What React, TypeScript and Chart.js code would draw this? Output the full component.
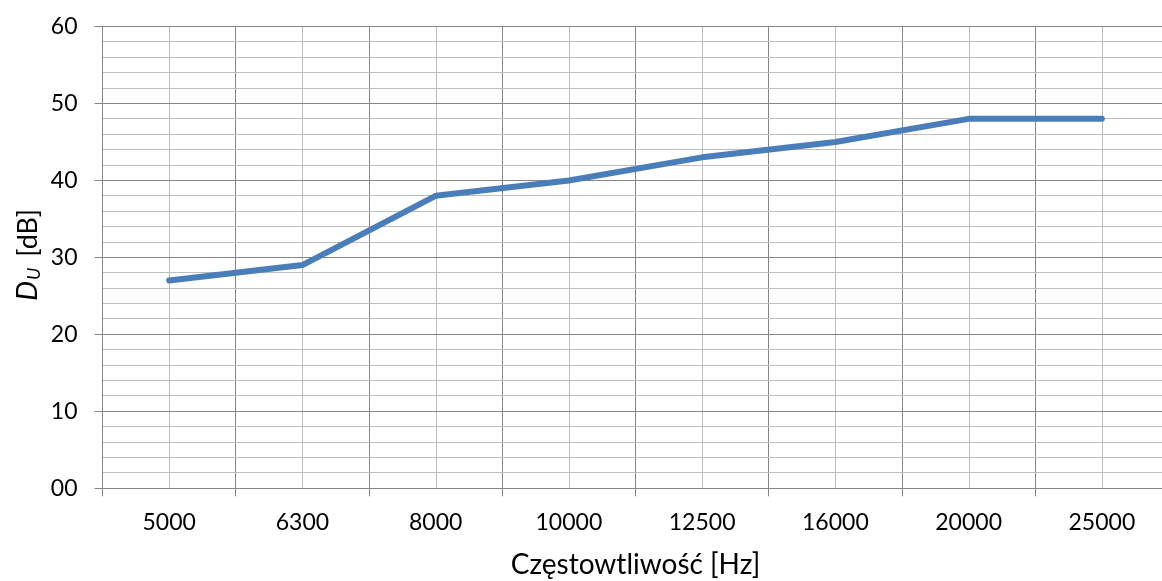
import React, { useEffect, useRef } from "react";
import { Chart, registerables } from "chart.js";

Chart.register(...registerables);

const categories = ["5000", "6300", "8000", "10000", "12500", "16000", "20000", "25000"];
const duValues = [27, 29, 38, 40, 43, 45, 48, 48];
const yTickLabels = ["00", "10", "20", "30", "40", "50", "60"];

const FONT = "Lato, 'Open Sans', sans-serif";
const DARK = "#868686";
const LIGHT = "#BEBEBE";

const centerLines = {
  id: "centerLines",
  beforeDraw(chart: any) {
    const { ctx, chartArea, scales } = chart;
    const x = scales.x;
    ctx.save();
    ctx.strokeStyle = LIGHT;
    ctx.lineWidth = 1;
    for (let i = 0; i < categories.length; i++) {
      const px = Math.round(x.getPixelForTick(i)) + 0.5;
      ctx.beginPath();
      ctx.moveTo(px, chartArea.top);
      ctx.lineTo(px, chartArea.bottom);
      ctx.stroke();
    }
    ctx.restore();
  },
};

const yTitle = {
  id: "yTitle",
  afterDraw(chart: any) {
    const { ctx, chartArea } = chart;
    const big = `27px ${FONT}`;
    const bigIt = `italic 28px ${FONT}`;
    const small = `italic 18px ${FONT}`;
    ctx.save();
    ctx.fillStyle = "#000";
    ctx.textBaseline = "alphabetic";
    ctx.textAlign = "left";
    ctx.font = bigIt;
    const wD = ctx.measureText("D").width;
    ctx.font = small;
    const wU = ctx.measureText("U").width;
    ctx.font = big;
    const wRest = ctx.measureText("[dB]").width;
    const gap = 11;
    const total = wD + 1 + wU + gap + wRest;
    const cy = (chartArea.top + chartArea.bottom) / 2 - 2.5;
    ctx.translate(37, cy);
    ctx.rotate(-Math.PI / 2);
    let xPos = -total / 2;
    ctx.font = bigIt;
    ctx.fillText("D", xPos, 0);
    xPos += wD + 1;
    ctx.font = small;
    ctx.fillText("U", xPos, 3);
    xPos += wU + gap;
    ctx.font = big;
    ctx.fillText("[dB]", xPos, 0);
    ctx.restore();
  },
};

export default function App() {
  const ref = useRef<HTMLCanvasElement | null>(null);

  useEffect(() => {
    if (!ref.current) return;
    const chart = new Chart(ref.current, {
      type: "line",
      data: {
        labels: categories,
        datasets: [
          {
            label: "DU",
            data: duValues,
            borderColor: "#4A7EBB",
            backgroundColor: "#4A7EBB",
            borderWidth: 6,
            borderCapStyle: "round",
            borderJoinStyle: "round",
            pointRadius: 0,
            tension: 0,
            fill: false,
          },
        ],
      },
      options: {
        animation: false,
        responsive: false,
        maintainAspectRatio: false,
        devicePixelRatio: 1,
        layout: { autoPadding: false, padding: { top: 26.5, right: 31.5, left: 0, bottom: 0 } },
        plugins: {
          legend: { display: false },
          tooltip: { enabled: false },
        },
        scales: {
          x: {
            type: "category",
            offset: true,
            grid: {
              offset: true,
              color: DARK,
              lineWidth: 1,
              tickLength: 8,
              tickColor: DARK,
            },
            border: { color: DARK, width: 1 },
            ticks: {
              autoSkip: false,
              maxRotation: 0,
              minRotation: 0,
              padding: 12,
              color: "#000",
              font: { family: FONT, size: 23 },
            },
            title: {
              display: true,
              text: "Częstowtliwość [Hz]",
              color: "#000",
              font: { family: FONT, size: 28 },
              padding: { top: 0, bottom: -1 },
            },
            afterFit(scale: any) {
              scale.height = 92.7;
              scale.paddingLeft = 0;
              scale.paddingRight = 0;
            },
          },
          y: {
            min: 0,
            max: 60,
            grid: {
              color: (c: any) => (c.tick && c.tick.value % 10 === 0 ? DARK : LIGHT),
              tickColor: (c: any) => (c.tick && c.tick.value % 10 === 0 ? DARK : "rgba(0,0,0,0)"),
              lineWidth: 1,
              tickLength: 8,
            },
            border: { color: DARK, width: 1 },
            ticks: {
              stepSize: 2,
              autoSkip: false,
              padding: 17,
              color: "#000",
              font: { family: FONT, size: 23 },
              callback: (v: any) => (Number(v) % 10 === 0 ? yTickLabels[Number(v) / 10] : ""),
            },
            afterFit(scale: any) {
              scale.width = 102.5;
              scale.paddingTop = 0;
              scale.paddingBottom = 0;
            },
          },
        },
      },
      plugins: [centerLines, yTitle],
    });
    return () => chart.destroy();
  }, []);

  return (
    <div
      style={{
        position: "fixed",
        left: 0,
        top: 0,
        width: 1162,
        height: 581,
        overflow: "hidden",
        background: "#fff",
      }}
    >
      <canvas ref={ref} width={1200} height={581} style={{ width: 1200, height: 581, display: "block" }} />
    </div>
  );
}
